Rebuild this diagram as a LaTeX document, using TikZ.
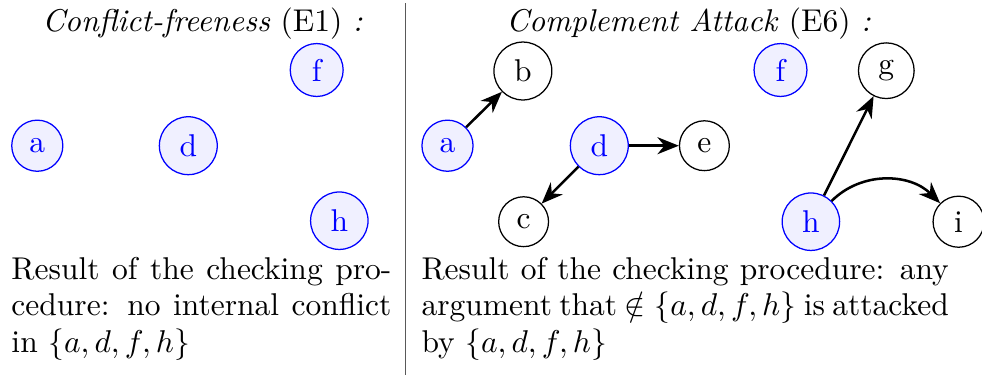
\documentclass[tikz,border=0pt]{standalone}
\usetikzlibrary{arrows.meta}
\begin{document}
\begin{tikzpicture}[x=0.31746pt,y=-0.31746pt,
  argin/.style={circle,draw=blue,fill=blue!6,text=blue},
  argout/.style={circle,draw=black,fill=white,text=black},
  att/.style={thick,-{Stealth[length=6.8pt,width=5.4pt]}},
  txt/.style={anchor=base west,inner sep=0pt,outer sep=0pt}]
\useasboundingbox (0,0) rectangle (982,379);
% divider
\coordinate (dtop) at (405.5,3);
\coordinate (dbot) at (405.5,375);
\draw[black!65,line width=0.4pt] (dtop) -- (dbot);
% titles
\node[anchor=base] (t1) at (202.5,31) {\textit{Conflict-freeness} (E1) \textit{:}};
\node[anchor=base] (t2) at (688.6,31) {\textit{Complement Attack} (E6) \textit{:}};
% left panel
\node[argin] (la) at (37.3,145.7) {a};
\node[argin] (ld) at (188.3,145.7) {d};
\node[argin] (lf) at (316.7,70) {f};
\node[argin] (lh) at (339.3,220.7) {h};
% right panel
\node[argin] (ra) at (447.5,145.7) {a};
\node[argout] (rb) at (522.9,71) {b};
\node[argout] (rc) at (523.6,221.7) {c};
\node[argin] (rd) at (599.3,145.7) {d};
\node[argout] (re) at (704.4,145.7) {e};
\node[argin] (rf) at (780.5,70) {f};
\node[argout] (rg) at (886.3,70.7) {g};
\node[argin] (rh) at (810.9,221.7) {h};
\node[argout] (ri) at (958.6,221.7) {i};
\draw[att] (ra) -- (rb);
\draw[att] (rd) -- (re);
\draw[att] (rd) -- (rc);
\draw[att] (rh) -- (rg);
\draw[att] (rh) to[out=45,in=135] (ri);
% bottom texts
\node[txt] (l1) at (11.5,279) {\makebox[120.6pt][s]{Result of the checking pro-}};
\node[txt] (l2) at (11.5,315.5) {\makebox[120.6pt][s]{cedure: no internal conflict}};
\node[txt] (l3) at (11.5,352) {in $\{a,d,f,h\}$};
\node[txt] (r1) at (421.5,279) {\makebox[167.4pt][s]{Result of the checking procedure: any}};
\node[txt] (r2) at (421.5,315.5) {\makebox[167.4pt][s]{argument that $\notin\{a,d,f,h\}$ is attacked}};
\node[txt] (r3) at (421.5,352) {by $\{a,d,f,h\}$};
\end{tikzpicture}
\end{document}
